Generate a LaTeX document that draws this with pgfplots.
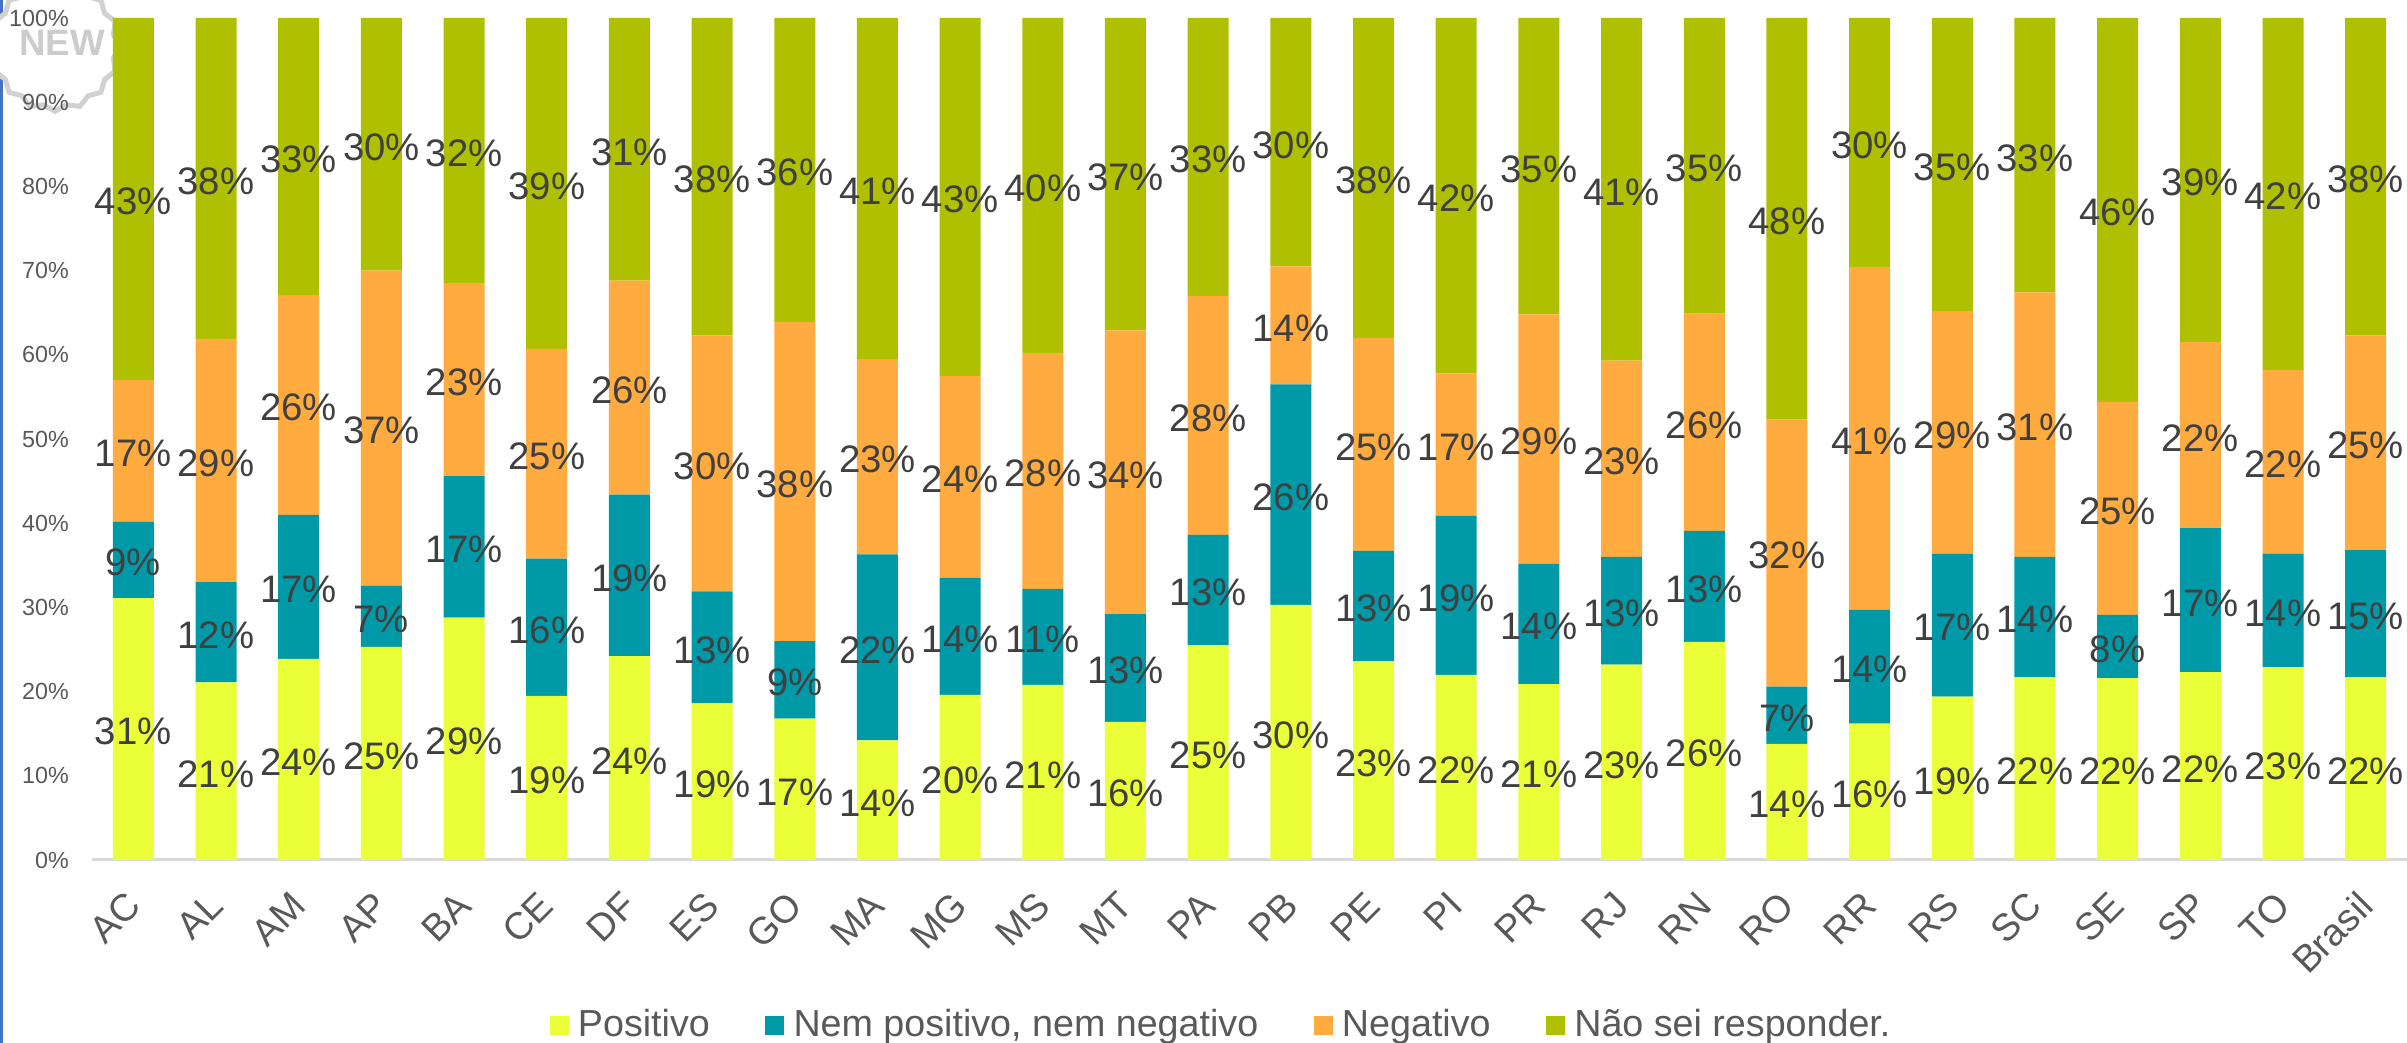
\documentclass[border=0pt]{standalone}
\usepackage{pgfplots}
\usepackage{pgfplotstable}
\usepackage{fontspec}
\setmainfont{Liberation Sans}
\pgfplotsset{compat=1.18}
\usetikzlibrary{shapes.geometric}
\definecolor{cPos}{HTML}{EBFF38}
\definecolor{cNem}{HTML}{0099A8}
\definecolor{cNeg}{HTML}{FFAB40}
\definecolor{cNao}{HTML}{AFC000}
\definecolor{txtD}{HTML}{404040}
\definecolor{txtT}{HTML}{595959}
\pgfplotstableread{
x a b c d la lb lc ld
0 31.1 9.1 16.8 43.0 31 9 17 43
1 21.1 11.9 28.9 38.1 21 12 29 38
2 23.9 17.1 26.1 32.9 24 17 26 33
3 25.3 7.3 37.4 30.0 25 7 37 30
4 28.8 16.8 22.9 31.5 29 17 23 32
5 19.5 16.3 24.9 39.3 19 16 25 39
6 24.2 19.2 25.4 31.2 24 19 26 31
7 18.6 13.3 30.4 37.7 19 13 30 38
8 16.8 9.2 37.9 36.1 17 9 38 36
9 14.2 22.1 23.2 40.5 14 22 23 41
10 19.6 13.9 24.0 42.5 20 14 24 43
11 20.8 11.4 28.0 39.8 21 11 28 40
12 16.4 12.8 33.7 37.1 16 13 34 37
13 25.5 13.1 28.4 33.0 25 13 28 33
14 30.3 26.2 14.0 29.5 30 26 14 30
15 23.6 13.1 25.3 38.0 23 13 25 38
16 22.0 18.9 16.9 42.2 22 19 17 42
17 20.9 14.3 29.6 35.2 21 14 29 35
18 23.2 12.8 23.3 40.7 23 13 23 41
19 25.9 13.2 25.8 35.1 26 13 26 35
20 13.8 6.8 31.7 47.7 14 7 32 48
21 16.2 13.5 40.7 29.6 16 14 41 30
22 19.4 17.0 28.8 34.8 19 17 29 35
23 21.7 14.3 31.4 32.6 22 14 31 33
24 21.6 7.5 25.3 45.6 22 8 25 46
25 22.3 17.1 22.1 38.5 22 17 22 39
26 22.9 13.5 21.8 41.8 23 14 22 42
27 21.7 15.1 25.5 37.7 22 15 25 38
}\datatab
\begin{document}
\begin{tikzpicture}[x=1pt,y=1pt]
\useasboundingbox (0,0) rectangle (722.1,312.9);
\fill[color={rgb,255:red,68;green,114;blue,196}] (0,0) rectangle (0.8,312.9);
\node[star,star points=16,star point ratio=1.09,minimum size=39pt,draw=black!18,line width=1.5pt,fill=white,inner sep=0pt] at (16.5,299) {};
\node[text=black!20,font=\fontsize{11}{11}\selectfont\bfseries,inner sep=0pt] at (18.6,300) {NEW};
\begin{axis}[
  at={(27.6pt,54.9pt)},anchor=south west,
  scale only axis,width=694.5pt,height=252.6pt,
  ybar stacked,bar width=12.3pt,
  xmin=-0.5,xmax=27.5,ymin=0,ymax=100,
  clip=false,
  axis lines*=left,
  x axis line style={-,draw=black!15,line width=0.9pt},
  y axis line style={draw=none},
  major tick length=0pt,
  xtick={0,...,27},
  xticklabels={AC,AL,AM,AP,BA,CE,DF,ES,GO,MA,MG,MS,MT,PA,PB,PE,PI,PR,RJ,RN,RO,RR,RS,SC,SE,SP,TO,Brasil},
  x tick label style={rotate=45,anchor=east,xshift=-4.8pt,yshift=-8.3pt,text=txtT,font=\fontsize{11.4}{11.4}\selectfont},
  ytick={0,10,...,100},
  yticklabel={\pgfmathprintnumber[assume math mode=true]{\tick}\%},
  y tick label style={text=txtT,font=\fontsize{7}{7}\selectfont,xshift=-3.4pt},
  point meta=explicit,
  nodes near coords={\pgfmathprintnumber[fixed,precision=0,assume math mode=true]{\pgfplotspointmeta}\%},
  every node near coord/.append style={anchor=center,inner sep=0pt,text=txtD,yshift=-0.8pt,font=\fontsize{11.5}{11.5}\selectfont},
  legend columns=4,
  legend style={draw=none,fill=none,at={(0.488,-0.196)},anchor=center,font=\fontsize{11.3}{11.3}\selectfont,text=txtT,inner sep=0pt,
    /tikz/every even column/.append style={column sep=15.6pt},
    nodes={inner sep=1pt}},
  legend image code/.code={\fill[#1,draw=none] (0,-2.85pt) rectangle (5.7pt,2.85pt);\path (7.5pt,0);},
]
\addplot[fill=cPos,draw=none] table[x=x,y=a,meta=la]{\datatab};
\addplot[fill=cNem,draw=none] table[x=x,y=b,meta=lb]{\datatab};
\addplot[fill=cNeg,draw=none] table[x=x,y=c,meta=lc]{\datatab};
\addplot[fill=cNao,draw=none] table[x=x,y=d,meta=ld]{\datatab};
\legend{Positivo,{Nem positivo, nem negativo},Negativo,Não sei responder.}
\end{axis}
\end{tikzpicture}
\end{document}
